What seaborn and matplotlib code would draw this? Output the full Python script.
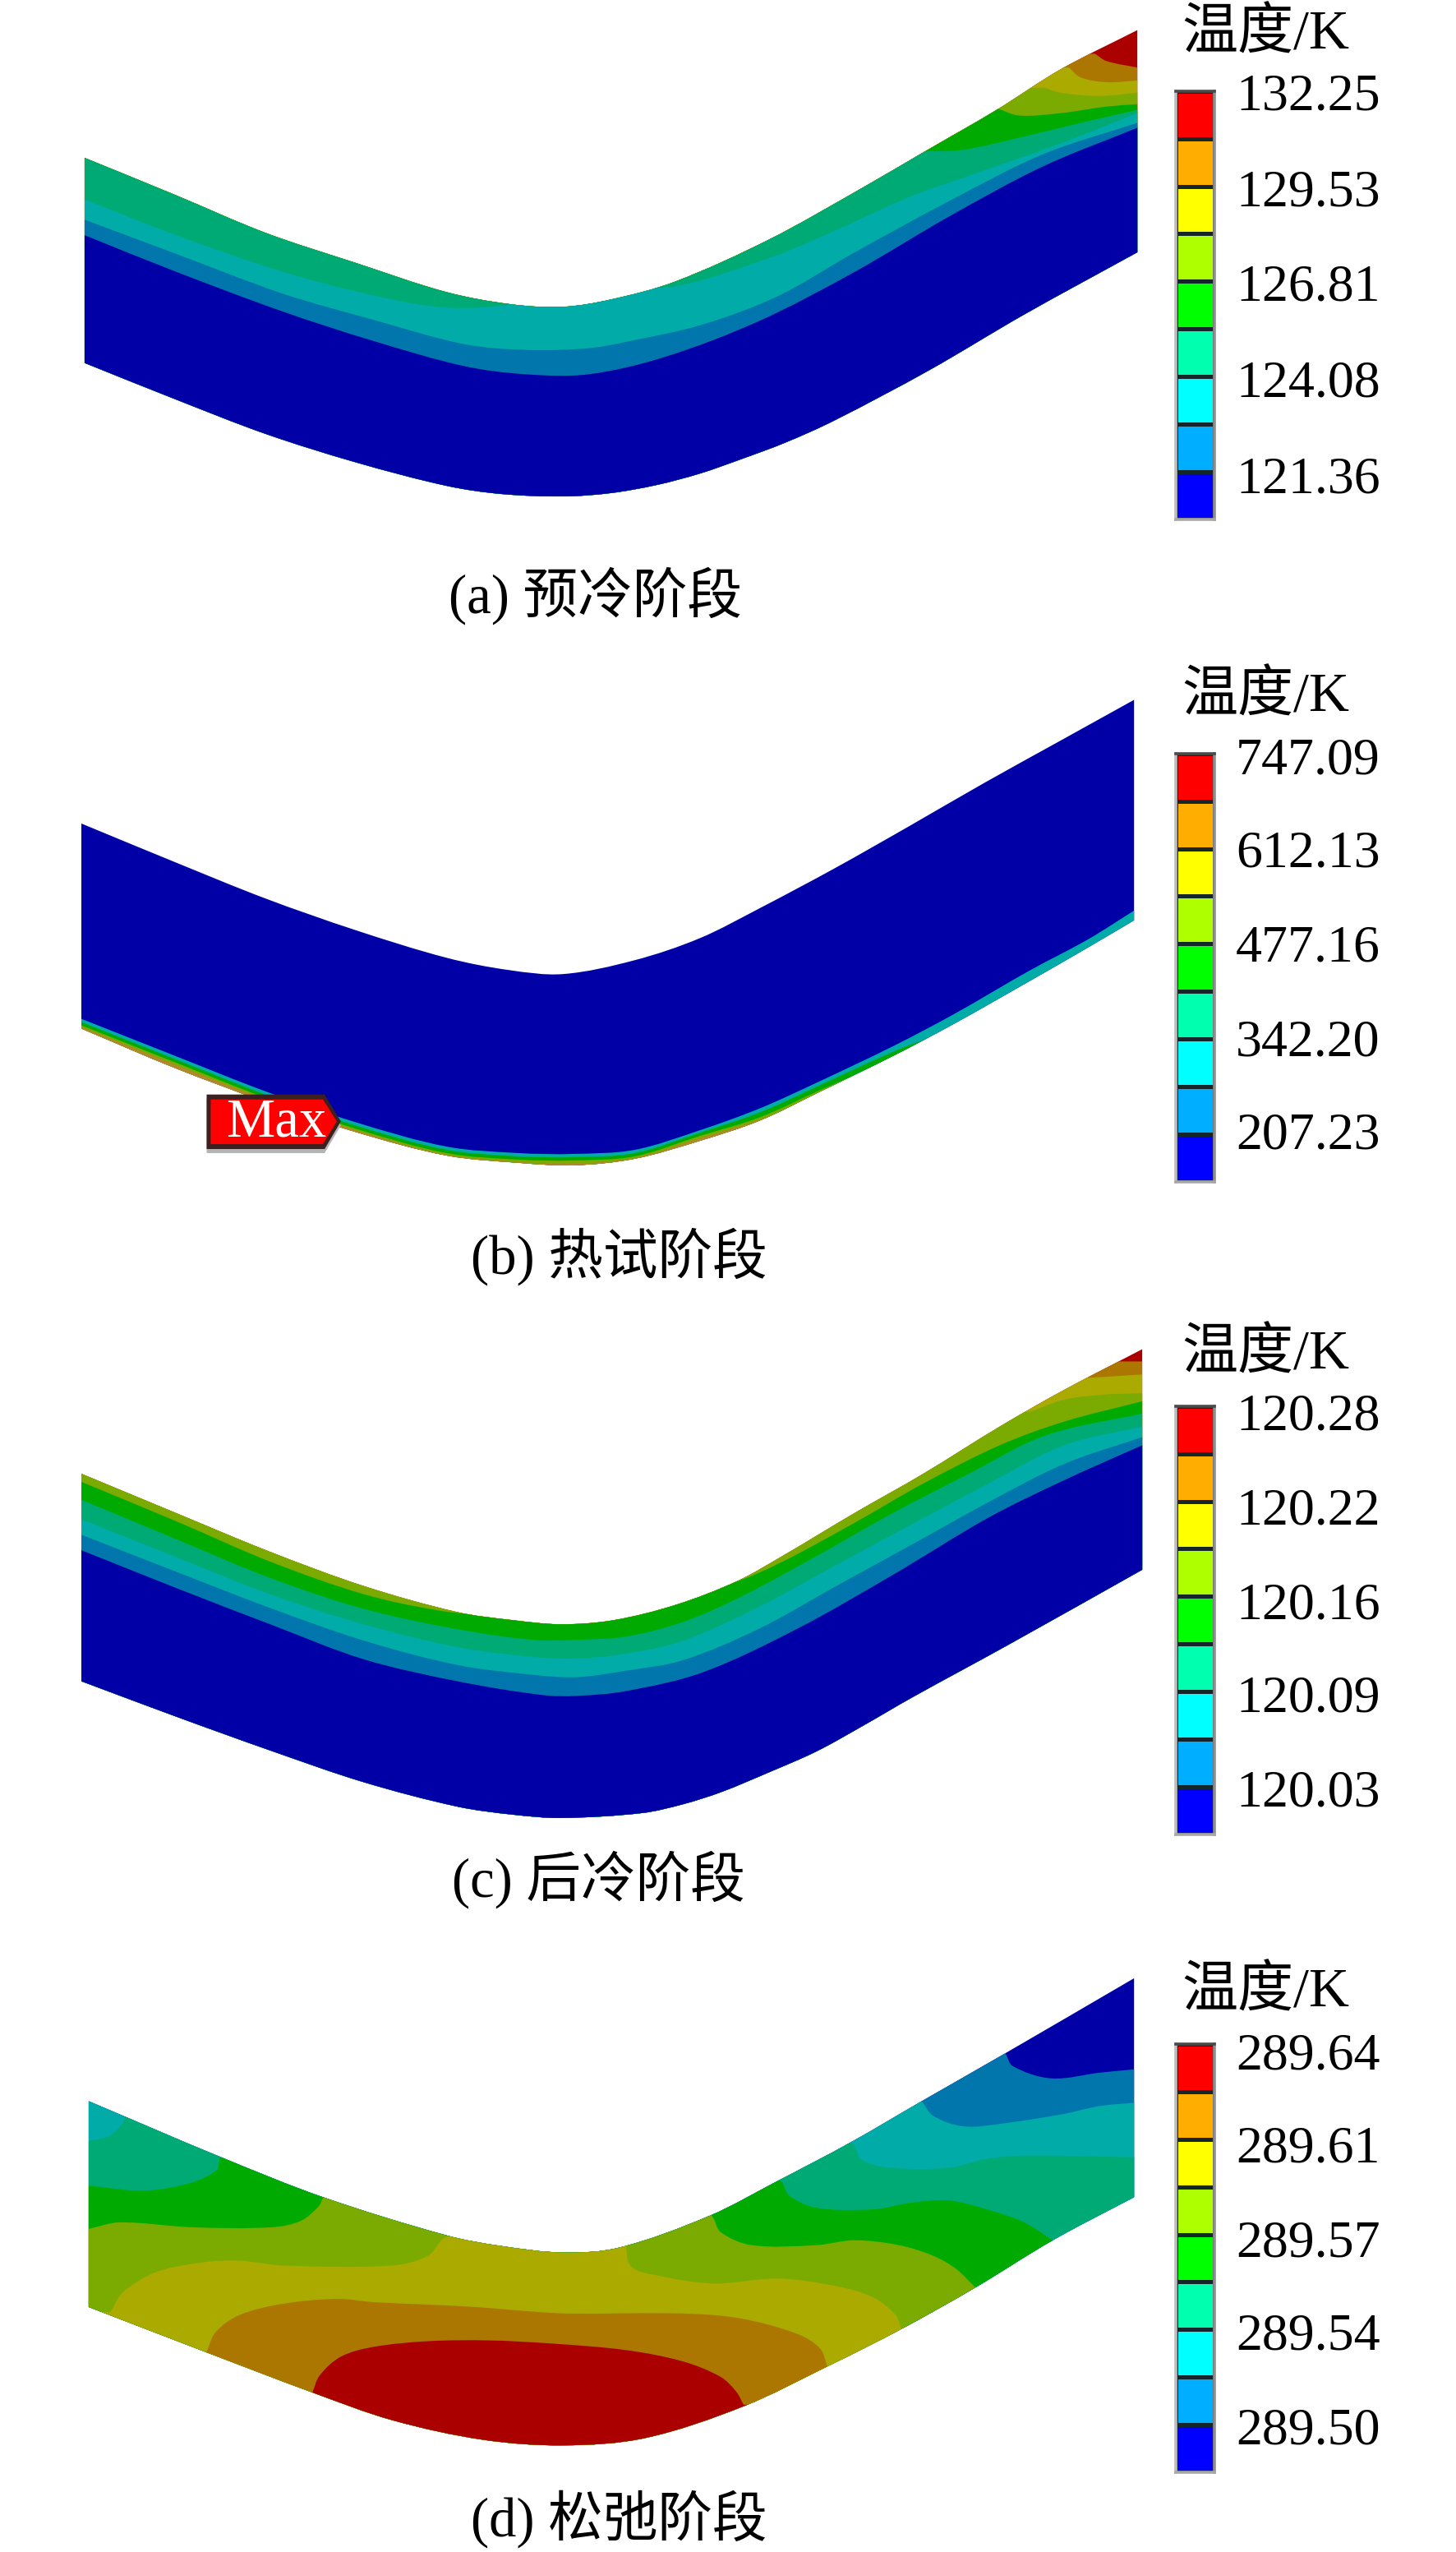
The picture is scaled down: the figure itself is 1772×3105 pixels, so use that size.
import numpy as np
import matplotlib
matplotlib.use("Agg")
import matplotlib.pyplot as plt
import seaborn as sns
from matplotlib.colors import ListedColormap
from matplotlib.path import Path
from matplotlib.patches import PathPatch

# --------------------------------------------------
# THEME
# --------------------------------------------------
sns.set_theme(style="white")
TEXT_FONT = ['Liberation Serif', 'Noto Sans CJK SC']
plt.rcParams['font.family'] = TEXT_FONT

WIDTH, HEIGHT = 1772, 3105
# the coordinates below were read in a frame slightly larger than the image
READ_SCALE = 1.01

# contour colours as they appear in the field (dimmed) and in the legend (bright)
BLUE, STEEL, TEAL, TGREEN = '#0000A6', '#0076AC', '#00ABA8', '#00AA74'
GREEN, OLIVE, YELLOW, BROWN, RED = '#00AA00', '#7BAA00', '#AAAA00', '#AC7700', '#AA0000'
LEGEND_COLORS = ['#0000FF', '#00AEFF', '#00FFFF', '#00FFAE', '#00FF00',
                 '#AEFF00', '#FFFF00', '#FFAE00', '#FF0000']
LEGEND_LEVELS = [8, 7, 6, 5, 4, 3, 2, 1, 0]

# --------------------------------------------------
# TEXT DATA
# --------------------------------------------------
legend_title = '温度/K'
a_labels = ['132.25', '129.53', '126.81', '124.08', '121.36']
b_labels = ['747.09', '612.13', '477.16', '342.20', '207.23']
c_labels = ['120.28', '120.22', '120.16', '120.09', '120.03']
d_labels = ['289.64', '289.61', '289.57', '289.54', '289.50']
a_caption = '(a) 预冷阶段'
b_caption = '(b) 热试阶段'
c_caption = '(c) 后冷阶段'
d_caption = '(d) 松弛阶段'

# --------------------------------------------------
# PANEL (a) outline and contour lines
# --------------------------------------------------
a_top_x = [104, 214, 326, 437, 549, 629, 692, 751, 830, 946, 1058, 1137, 1225, 1304, 1398]
a_top_y = [194, 239, 286, 323, 359, 374, 377, 368, 346, 294, 232, 186, 135, 85, 37]
a_bot_x = [104, 214, 326, 437, 549, 616, 692, 750, 807, 860, 909, 965, 1025, 1142, 1258, 1398]
a_bot_y = [446, 490, 533, 568, 597, 607, 610, 606, 596, 582, 565, 544, 517, 455, 387, 310]
a_red_x = [1346, 1360, 1398]
a_red_y = [66, 75, 83]
a_brown_x = [1314, 1328, 1360, 1398]
a_brown_y = [83, 95, 101, 99]
a_yellow_x = [1284, 1304, 1351, 1398]
a_yellow_y = [108, 114, 118, 114]
a_olive_x = [1225, 1253, 1304, 1360, 1398]
a_olive_y = [133, 142, 139, 131, 128]
a_green_x = [1137, 1184, 1258, 1328, 1398]
a_green_y = [186, 184, 168, 151, 135]
a_tgreen_x = [104, 214, 348, 459, 549, 629, 692, 760, 830, 951, 1025, 1118, 1211, 1304, 1398]
a_tgreen_y = [245, 288, 334, 363, 378, 374, 360, 352, 352, 315, 284, 242, 209, 176, 139]
a_teal_x = [104, 214, 348, 459, 571, 647, 723, 770, 863, 956, 1049, 1165, 1281, 1398]
a_teal_y = [270, 311, 361, 393, 423, 430, 428, 420, 399, 364, 311, 248, 190, 151]
a_steel_x = [104, 214, 348, 459, 571, 647, 723, 816, 932, 1049, 1165, 1281, 1398]
a_steel_y = [289, 333, 383, 419, 450, 460, 460, 439, 395, 335, 267, 205, 157]

# --------------------------------------------------
# PANEL (b)
# --------------------------------------------------
b_top_x = [100, 214, 326, 437, 549, 625, 692, 780, 860, 934, 1026, 1118, 1210, 1302, 1394]
b_top_y = [1012, 1059, 1104, 1143, 1177, 1192, 1197, 1180, 1153, 1116, 1067, 1015, 962, 911, 860]
b_bot_x = [100, 214, 326, 437, 549, 638, 705, 780, 860, 934, 1007, 1099, 1173, 1265, 1338, 1394]
b_bot_y = [1264, 1312, 1354, 1391, 1420, 1429, 1432, 1424, 1402, 1377, 1342, 1297, 1258, 1206, 1164, 1131]
b_blue_y = [1252, 1297, 1341, 1379, 1409, 1417, 1418, 1413, 1389, 1362, 1329, 1285, 1246, 1193, 1154, 1119]
b_teal_y = [1256, 1301, 1345, 1383, 1413, 1421, 1422, 1417, 1392, 1367, 1334, 1292, 1262, 1210, 1168, 1135]
b_green_y = [1260, 1305, 1349, 1387, 1417, 1425, 1426, 1421, 1396, 1373, 1340, 1300, 1262, 1210, 1168, 1135]
b_olive_y = [1262, 1308, 1351, 1389, 1419, 1428, 1430, 1423, 1399, 1376, 1344, 1300, 1262, 1210, 1168, 1135]
max_outer_x = [254, 399, 419, 399, 254]
max_outer_y = [1345, 1345, 1378, 1412, 1412]
max_inner_x = [259, 397, 414, 397, 259]
max_inner_y = [1351, 1351, 1378, 1406, 1406]
max_label = 'Max'

# --------------------------------------------------
# PANEL (c)
# --------------------------------------------------
c_top_x = [100, 218, 332, 447, 562, 631, 690, 754, 831, 906, 962, 1051, 1135, 1229, 1308, 1404]
c_top_y = [1811, 1860, 1907, 1949, 1981, 1991, 1996, 1991, 1972, 1943, 1912, 1859, 1811, 1753, 1708, 1658]
c_bot_x = [100, 218, 332, 447, 562, 631, 690, 789, 840, 887, 945, 1004, 1062, 1121, 1238, 1404]
c_bot_y = [2066, 2110, 2151, 2190, 2220, 2230, 2234, 2228, 2217, 2202, 2178, 2152, 2120, 2086, 2022, 1929]
c_red_x = [1379, 1404]
c_red_y = [1673, 1673]
c_brown_x = [1341, 1404]
c_brown_y = [1693, 1689]
c_yellow_x = [1266, 1308, 1355, 1404]
c_yellow_y = [1735, 1720, 1714, 1712]
c_olive_x = [100, 218, 332, 447, 539, 606, 690, 780, 831, 901, 962, 1051, 1135, 1229, 1308, 1404]
c_olive_y = [1821, 1870, 1919, 1959, 1979, 1985, 1985, 1975, 1960, 1945, 1919, 1871, 1823, 1776, 1747, 1722]
c_green_x = [100, 218, 332, 447, 562, 654, 709, 770, 840, 911, 1004, 1098, 1191, 1285, 1404]
c_green_y = [1843, 1892, 1939, 1977, 2002, 2015, 2015, 2011, 1993, 1962, 1912, 1859, 1811, 1764, 1737]
c_tgreen_x = [100, 218, 332, 447, 562, 654, 709, 770, 840, 934, 1028, 1121, 1215, 1308, 1404]
c_tgreen_y = [1867, 1914, 1959, 1996, 2024, 2036, 2038, 2032, 2016, 1974, 1923, 1873, 1823, 1776, 1753]
c_teal_x = [100, 218, 332, 447, 562, 654, 709, 770, 840, 934, 1028, 1121, 1215, 1308, 1404]
c_teal_y = [1886, 1932, 1976, 2016, 2046, 2058, 2061, 2053, 2040, 2001, 1949, 1898, 1846, 1799, 1766]
c_steel_x = [100, 218, 332, 447, 562, 667, 709, 770, 864, 981, 1098, 1215, 1308, 1404]
c_steel_y = [1905, 1952, 1996, 2039, 2066, 2083, 2084, 2078, 2055, 2001, 1935, 1865, 1819, 1776]

# --------------------------------------------------
# PANEL (d)
# --------------------------------------------------
d_top_x = [109, 272, 397, 549, 616, 692, 761, 872, 956, 1045, 1133, 1236, 1394]
d_top_y = [2582, 2651, 2700, 2747, 2760, 2768, 2762, 2723, 2680, 2633, 2582, 2523, 2431]
d_bot_x = [109, 252, 384, 482, 593, 692, 793, 914, 1017, 1108, 1199, 1294, 1394]
d_bot_y = [2835, 2890, 2940, 2974, 2998, 3005, 2996, 2957, 2908, 2862, 2811, 2753, 2700]
d_steel_x = [1236, 1245, 1292, 1352, 1394]
d_steel_y = [2523, 2539, 2554, 2547, 2543]
d_teal_x = [1133, 1147, 1185, 1236, 1306, 1352, 1394]
d_teal_y = [2582, 2600, 2613, 2609, 2598, 2588, 2584]
d_tgreen_x = [109, 134, 151, 156, 1045, 1059, 1096, 1166, 1213, 1259, 1394]
d_tgreen_y = [2631, 2625, 2609, 2600, 2633, 2654, 2664, 2664, 2653, 2649, 2651]
d_green_x = [109, 178, 236, 267, 272, 560, 800, 959, 970, 1003, 1073, 1119, 1166, 1213, 1259, 1294]
d_green_y = [2686, 2692, 2682, 2666, 2651, 2600, 2600, 2680, 2698, 2713, 2715, 2707, 2704, 2715, 2731, 2753]
d_olive_x = [109, 147, 236, 334, 370, 392, 399, 560, 800, 875, 886, 924, 1003, 1050, 1105, 1147, 1175, 1199]
d_olive_y = [2739, 2731, 2737, 2737, 2729, 2711, 2700, 2650, 2650, 2723, 2743, 2759, 2759, 2753, 2759, 2772, 2788, 2811]
d_yellow_x = [136, 151, 192, 250, 294, 348, 482, 526, 549, 640, 761, 775, 807, 877, 956, 1026, 1073, 1101, 1108]
d_yellow_y = [2841, 2817, 2792, 2780, 2778, 2784, 2784, 2772, 2749, 2740, 2740, 2784, 2796, 2806, 2800, 2809, 2823, 2845, 2862]
d_brown_x = [254, 265, 294, 348, 415, 459, 526, 584, 660, 700, 840, 910, 980, 1008, 1017]
d_brown_y = [2890, 2866, 2845, 2831, 2825, 2829, 2832, 2835, 2841, 2843, 2843, 2849, 2868, 2886, 2908]
d_red_x = [384, 393, 419, 459, 526, 600, 680, 770, 840, 886, 905, 914]
d_red_y = [2940, 2919, 2896, 2884, 2877, 2876, 2880, 2888, 2902, 2921, 2939, 2955]


# --------------------------------------------------
# DRAWING HELPERS
# --------------------------------------------------
def curve_segments(x, y):
    # bezier handles through the read points, so contour lines draw smooth
    pts = np.column_stack([x, y]).astype(float)
    verts, codes = [], []
    for i in range(len(pts) - 1):
        p0, p1 = pts[i], pts[i + 1]
        seg = np.hypot(*(p1 - p0))
        prev_p = pts[i - 1] if i > 0 else p0
        next_p = pts[i + 2] if i + 2 < len(pts) else p1
        t0 = (p1 - prev_p) / max(np.hypot(*(p1 - prev_p)), 1e-6)
        t1 = (next_p - p0) / max(np.hypot(*(next_p - p0)), 1e-6)
        verts += [p0 + t0 * seg / 3, p1 - t1 * seg / 3, p1]
        codes += [Path.CURVE4] * 3
    return pts[0], verts, codes


def draw_field(ax, top_x, top_y, bot_x, bot_y, base_color, levels):
    # every level paints the area under its contour line, clipped to the body
    start, top_v, top_c = curve_segments(top_x, top_y)
    bot_start, bot_v, bot_c = curve_segments(bot_x[::-1], bot_y[::-1])
    verts = [start] + top_v + [bot_start] + bot_v + [start]
    codes = [Path.MOVETO] + top_c + [Path.LINETO] + bot_c + [Path.CLOSEPOLY]
    body = PathPatch(Path(verts, codes), facecolor=base_color, edgecolor='none')
    ax.add_patch(body)
    x_far = WIDTH + 200
    y_far = HEIGHT * 1.1
    for color, x, y in levels:
        start, v, c = curve_segments(x, y)
        verts = [(-100, y[0]), start] + v + [(x_far, y[-1]), (x_far, y_far), (-100, y_far), (-100, y[0])]
        codes = [Path.MOVETO, Path.LINETO] + c + [Path.LINETO] * 3 + [Path.CLOSEPOLY]
        patch = PathPatch(Path(verts, codes), facecolor=color, edgecolor='none')
        ax.add_patch(patch)
        patch.set_clip_path(body)


def draw_legend(fig, ax, top, bottom, title_y, label_ys, labels):
    left, right = 1445, 1493
    cax = fig.add_axes([left / READ_SCALE / WIDTH, 1 - bottom / READ_SCALE / HEIGHT,
                        (right - left) / READ_SCALE / WIDTH, (bottom - top) / READ_SCALE / HEIGHT])
    cells = np.array(LEGEND_LEVELS).reshape(-1, 1)
    sns.heatmap(cells, ax=cax, cmap=ListedColormap(LEGEND_COLORS), vmin=0, vmax=8,
                cbar=False, xticklabels=False, yticklabels=False,
                linewidths=2.2, linecolor='#14262a')
    for side, col in zip(['left', 'right', 'top', 'bottom'],
                         ['#bdbdbd', '#8e8e8e', '#4a4a4a', '#a8a8a8']):
        cax.spines[side].set_visible(True)
        cax.spines[side].set_color(col)
        cax.spines[side].set_linewidth(2.6)
    ax.text(1453, title_y, legend_title, fontsize=49, va='center', ha='left', color='black')
    for y, lab in zip(label_ys, labels):
        ax.text(1519, y, lab, fontsize=46, va='center', ha='left', color='black')


# --------------------------------------------------
# FIGURE
# --------------------------------------------------
fig = plt.figure(figsize=(WIDTH / 100, HEIGHT / 100), dpi=100, facecolor='white')
ax = fig.add_axes([0, 0, 1, 1])
ax.set_xlim(0, WIDTH * READ_SCALE)
ax.set_ylim(HEIGHT * READ_SCALE, 0)
ax.axis('off')

# (a)
draw_field(ax, a_top_x, a_top_y, a_bot_x, a_bot_y, RED, [
    (BROWN, a_red_x, a_red_y), (YELLOW, a_brown_x, a_brown_y),
    (OLIVE, a_yellow_x, a_yellow_y), (GREEN, a_olive_x, a_olive_y),
    (TGREEN, a_green_x, a_green_y), (TEAL, a_tgreen_x, a_tgreen_y),
    (STEEL, a_teal_x, a_teal_y), (BLUE, a_steel_x, a_steel_y)])

# (b)
draw_field(ax, b_top_x, b_top_y, b_bot_x, b_bot_y, BLUE, [
    (TEAL, b_bot_x, b_blue_y), (GREEN, b_bot_x, b_teal_y),
    (OLIVE, b_bot_x, b_green_y), ('#B8862E', b_bot_x, b_olive_y)])
ax.fill(max_outer_x, np.array(max_outer_y) + 5, color='#b4b4b4', linewidth=0, zorder=5)
ax.fill(max_outer_x, max_outer_y, color='#3c2020', linewidth=0, zorder=6)
ax.fill(max_inner_x, max_inner_y, color='#FF0000', linewidth=0, zorder=7)
ax.text(340, 1380, max_label, color='white', fontsize=48, ha='center', va='center', zorder=8)

# (c)
draw_field(ax, c_top_x, c_top_y, c_bot_x, c_bot_y, RED, [
    (BROWN, c_red_x, c_red_y), (YELLOW, c_brown_x, c_brown_y),
    (OLIVE, c_yellow_x, c_yellow_y), (GREEN, c_olive_x, c_olive_y),
    (TGREEN, c_green_x, c_green_y), (TEAL, c_tgreen_x, c_tgreen_y),
    (STEEL, c_teal_x, c_teal_y), (BLUE, c_steel_x, c_steel_y)])

# (d) here the levels nest from the cold end up to the hot core
draw_field(ax, d_top_x, d_top_y, d_bot_x, d_bot_y, BLUE, [
    (STEEL, d_steel_x, d_steel_y), (TEAL, d_teal_x, d_teal_y),
    (TGREEN, d_tgreen_x, d_tgreen_y), (GREEN, d_green_x, d_green_y),
    (OLIVE, d_olive_x, d_olive_y), (YELLOW, d_yellow_x, d_yellow_y),
    (BROWN, d_brown_x, d_brown_y), (RED, d_red_x, d_red_y)])

# legends
draw_legend(fig, ax, 112, 638, 42, [120, 238, 354, 472, 590], a_labels)
draw_legend(fig, ax, 926, 1452, 856, [936, 1050, 1166, 1282, 1396], b_labels)
draw_legend(fig, ax, 1728, 2254, 1664, [1742, 1858, 1974, 2088, 2204], c_labels)
draw_legend(fig, ax, 2512, 3038, 2448, [2528, 2642, 2758, 2872, 2988], d_labels)

# captions
ax.text(732, 732, a_caption, fontsize=48, ha='center', va='center', color='black')
ax.text(761, 1544, b_caption, fontsize=48, ha='center', va='center', color='black')
ax.text(736, 2310, c_caption, fontsize=48, ha='center', va='center', color='black')
ax.text(761, 3095, d_caption, fontsize=48, ha='center', va='center', color='black')

fig.savefig('out.png', dpi=100, facecolor='white')
